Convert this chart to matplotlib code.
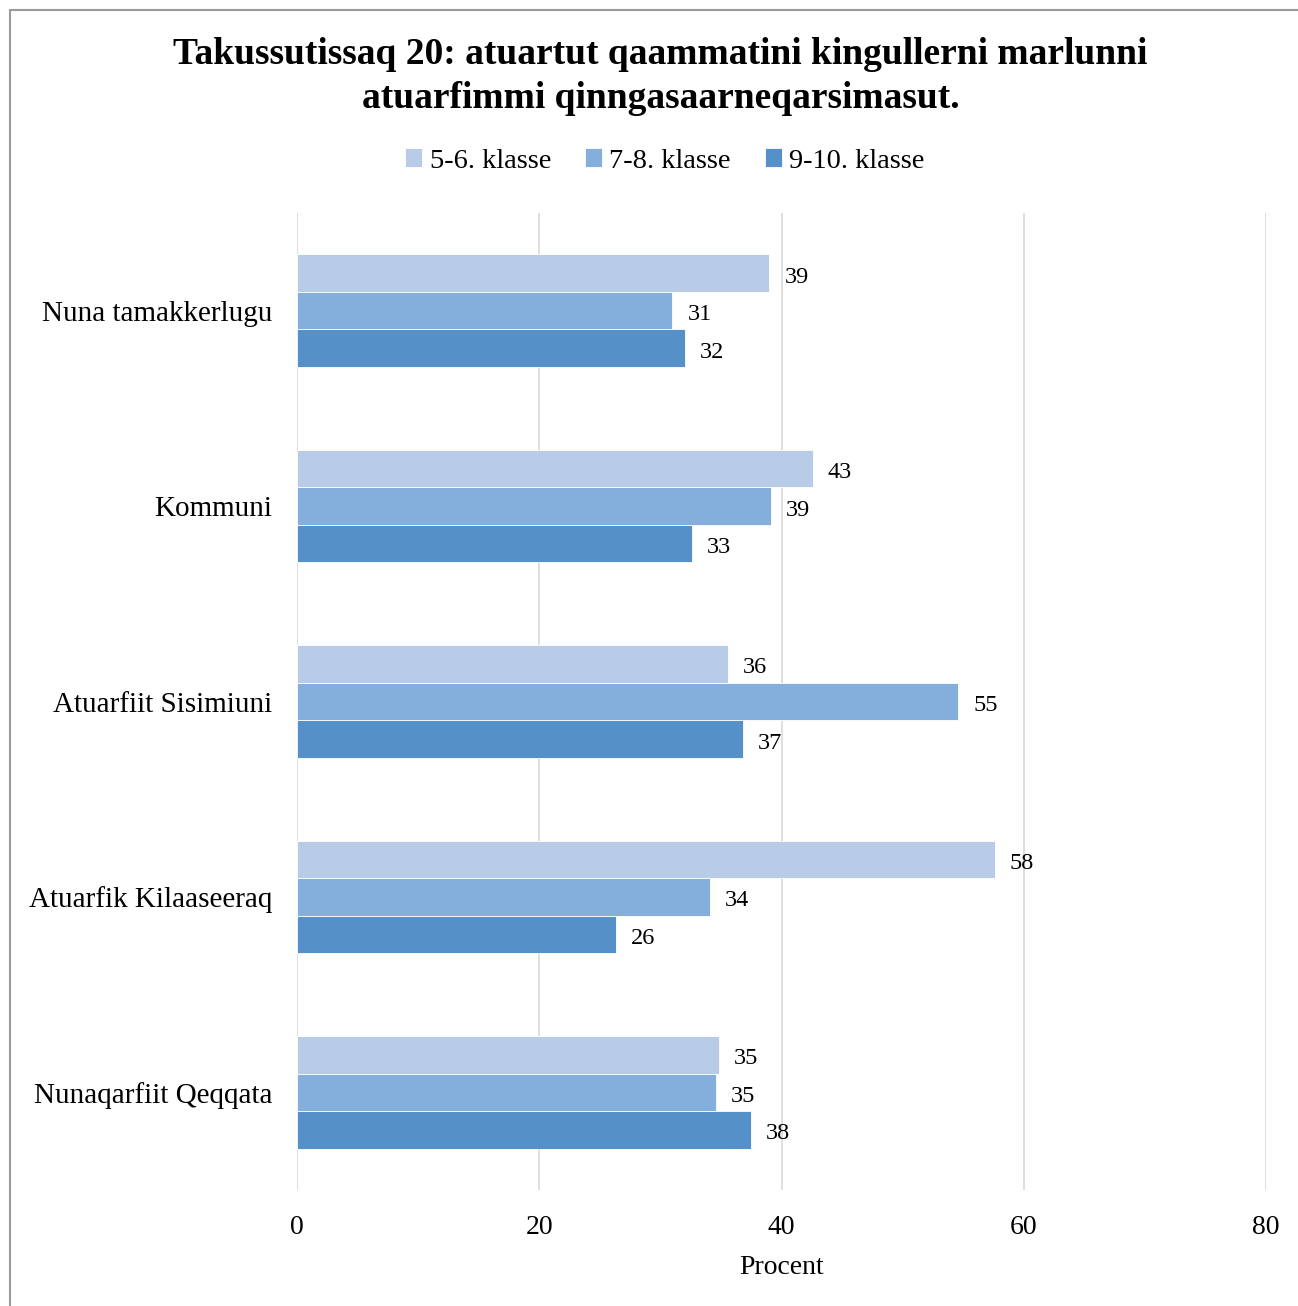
#!/usr/bin/env python3
"""Grouped horizontal bars: Takussutissaq 20, share per school and class group."""
import matplotlib
matplotlib.use("Agg")
import matplotlib.pyplot as plt
from matplotlib.patches import Rectangle
import numpy as np

plt.rcParams["font.family"] = ["Liberation Serif", "DejaVu Serif"]

categories = ["Nuna tamakkerlugu", "Kommuni", "Atuarfiit Sisimiuni",
              "Atuarfik Kilaaseeraq", "Nunaqarfiit Qeqqata"]
series_names = ["5-6. klasse", "7-8. klasse", "9-10. klasse"]
klasse_5_6 = [39.0, 42.6, 35.6, 57.6, 34.8]
klasse_7_8 = [31.0, 39.1, 54.6, 34.1, 34.6]
klasse_9_10 = [32.0, 32.6, 36.8, 26.3, 37.5]
colors = ["#b8cce8", "#84aedc", "#5590c8"]
xticks = [0, 20, 40, 60, 80]

fig = plt.figure(figsize=(12.98, 13.06), dpi=100)
ax = fig.add_axes([297 / 1298, 1 - 1190 / 1306, 969 / 1298, 977 / 1306])

y = np.arange(len(categories))
h = 0.192
for i, (vals, name, c) in enumerate(zip([klasse_5_6, klasse_7_8, klasse_9_10],
                                        series_names, colors)):
    pos = y + (i - 1) * h
    bars = ax.barh(pos, vals, h, color=c, label=name, edgecolor="white", linewidth=0.6)
    for b, v in zip(bars, vals):
        ax.annotate(f"{v:.0f}", (v, b.get_y() + b.get_height() / 2),
                    xytext=(15, -4), textcoords="offset pixels",
                    va="center", ha="left", fontsize=17.5)

ax.set_xlim(0, 80)
ax.set_ylim(len(categories) - 0.5, -0.5)
ax.set_xticks(xticks)
ax.set_yticks(y, categories)
ax.tick_params(axis="x", labelsize=20, length=0, pad=18)
ax.tick_params(axis="y", labelsize=21, length=0, pad=18)
ax.grid(axis="x", color="#d9d9d9", linewidth=1.2)
ax.set_axisbelow(True)
for s in ax.spines.values():
    s.set_visible(False)
ax.set_xlabel("Procent", fontsize=20, labelpad=11)

fig.text(0.509, 1 - 54 / 1306, "Takussutissaq 20: atuartut qaammatini kingullerni marlunni",
         ha="center", va="center", fontsize=27, fontweight="bold")
fig.text(0.509, 1 - 99 / 1306, "atuarfimmi qinngasaarneqarsimasut.",
         ha="center", va="center", fontsize=27, fontweight="bold")

fig.legend(loc="center", bbox_to_anchor=(665 / 1298, 1 - 161 / 1306), ncol=3,
           frameon=False, fontsize=20.5, handlelength=0.6, handleheight=0.6,
           handletextpad=0.25, columnspacing=1.2)

fig.patches.append(Rectangle((9.5 / 1298, -0.1), 1.2, 1.1 - 10 / 1306,
                             transform=fig.transFigure, fill=False,
                             edgecolor="#9a9a9a", linewidth=1.5))

fig.savefig("out.png", dpi=100)
